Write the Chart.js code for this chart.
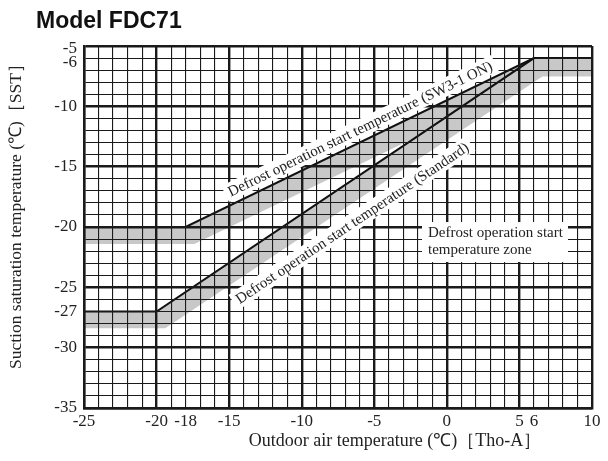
<!DOCTYPE html>
<html>
<head>
<meta charset="utf-8">
<script src="https://cdn.jsdelivr.net/npm/chart.js@4.4.1/dist/chart.umd.min.js"></script>
<style>
html, body { margin: 0; padding: 0; background: #fff; }
</style>
</head>
<body>
<canvas id="defrostChart" width="608" height="461"></canvas>
<script>
// Model FDC71 - defrost start temperature
var sw3OutdoorTemp = [-25, -18, 6, 10];
var sw3SuctionTemp = [-20, -20, -6, -6];
var stdOutdoorTemp = [-25, -20, 6, 10];
var stdSuctionTemp = [-27, -27, -6, -6];

// lower edges of the gray zones
var sw3ZoneOutdoor = [-25, -17.4, 6.6, 10];
var sw3ZoneSuction = [-21.4, -21.4, -7.5, -7.5];
var stdZoneOutdoor = [-25, -19.4, 6.6, 10];
var stdZoneSuction = [-28.4, -28.4, -7.5, -7.5];

var xTickLabels = [-25, -20, -18, -15, -10, -5, 0, 5, 6, 10];
var yTickLabels = [-5, -6, -10, -15, -20, -25, -27, -30, -35];

var serif = '"Liberation Serif", "Times New Roman", serif';

function toPoints(xs, ys) {
    return xs.map(function (x, i) { return { x: x, y: ys[i] }; });
}

// closed polygon: line on top, zone edge below (reversed)
function zonePoints(topX, topY, botX, botY) {
    return toPoints(topX, topY).concat(toPoints(botX, botY).reverse());
}

function intTicks(scale) {
    var t = [];
    for (var v = scale.min; v <= scale.max; v++) t.push({ value: v });
    scale.ticks = t;
}

function gridWidth(c) {
    return c.tick && c.tick.value % 5 === 0 ? 2.4 : 1.1;
}

// labels on the lines, drawn along the line direction
function lineLabel(chart, text, cx, cy, seg) {
    var ctx = chart.ctx, xs = chart.scales.x, ys = chart.scales.y;
    var px1 = xs.getPixelForValue(seg[0]), py1 = ys.getPixelForValue(seg[1]);
    var px2 = xs.getPixelForValue(seg[2]), py2 = ys.getPixelForValue(seg[3]);
    var ang = Math.atan2(py2 - py1, px2 - px1);
    ctx.save();
    ctx.translate(xs.getPixelForValue(cx), ys.getPixelForValue(cy));
    ctx.rotate(ang);
    ctx.font = '15px ' + serif;
    var w = ctx.measureText(text).width;
    ctx.fillStyle = '#fff';
    ctx.fillRect(-w / 2 - 4, -9, w + 8, 18);
    ctx.fillStyle = '#222';
    ctx.textAlign = 'center';
    ctx.textBaseline = 'middle';
    ctx.fillText(text, 0, 1);
    ctx.restore();
}

var annotatePlugin = {
    id: 'annotate',
    afterDraw: function (chart) {
        var ctx = chart.ctx, xs = chart.scales.x, ys = chart.scales.y;
        ctx.save();
        ctx.fillStyle = '#111';
        ctx.font = 'bold 23px "Liberation Sans", Arial, sans-serif';
        ctx.textBaseline = 'alphabetic';
        ctx.fillText('Model FDC71', 36, 28);

        ctx.fillStyle = '#222';
        ctx.font = '18px ' + serif;
        ctx.textAlign = 'center';
        ctx.textBaseline = 'middle';
        ctx.fillText('Outdoor air temperature (℃)［Tho-A］', 395, 441);
        ctx.save();
        ctx.font = '17.5px ' + serif;
        ctx.translate(16, 212);
        ctx.rotate(-Math.PI / 2);
        ctx.fillText('Suction saturation temperature (℃)［SST］', 0, 0);
        ctx.restore();
        ctx.restore();

        lineLabel(chart, 'Defrost operation start temperature (SW3-1 ON)', -5.98, -11.84,
            [sw3OutdoorTemp[1], sw3SuctionTemp[1], sw3OutdoorTemp[2], sw3SuctionTemp[2]]);
        lineLabel(chart, 'Defrost operation start temperature (Standard)', -6.53, -19.66,
            [stdOutdoorTemp[1], stdSuctionTemp[1], stdOutdoorTemp[2], stdSuctionTemp[2]]);

        // zone note box
        var bx = xs.getPixelForValue(-1.3), by = ys.getPixelForValue(-20.5);
        ctx.save();
        ctx.font = '15px ' + serif;
        ctx.fillStyle = '#fff';
        ctx.fillRect(bx - 6, by - 11, 146, 40);
        ctx.fillStyle = '#222';
        ctx.textBaseline = 'middle';
        ctx.fillText('Defrost operation start', bx, by);
        ctx.fillText('temperature zone', bx, by + 17);
        ctx.restore();
    }
};

new Chart(document.getElementById('defrostChart').getContext('2d'), {
    type: 'scatter',
    data: {
        datasets: [{
            label: 'SW3-1 ON',
            data: toPoints(sw3OutdoorTemp, sw3SuctionTemp),
            showLine: true,
            borderColor: '#111',
            borderWidth: 2,
            pointRadius: 0,
            order: 1
        }, {
            label: 'Standard',
            data: toPoints(stdOutdoorTemp, stdSuctionTemp),
            showLine: true,
            borderColor: '#111',
            borderWidth: 2,
            pointRadius: 0,
            order: 1
        }, {
            label: 'SW3-1 ON zone',
            data: zonePoints(sw3OutdoorTemp, sw3SuctionTemp, sw3ZoneOutdoor, sw3ZoneSuction),
            showLine: true,
            borderColor: 'rgba(0,0,0,0)',
            borderWidth: 0,
            backgroundColor: '#c8c8c8',
            fill: 'shape',
            pointRadius: 0,
            order: 2
        }, {
            label: 'Standard zone',
            data: zonePoints(stdOutdoorTemp, stdSuctionTemp, stdZoneOutdoor, stdZoneSuction),
            showLine: true,
            borderColor: 'rgba(0,0,0,0)',
            borderWidth: 0,
            backgroundColor: '#c8c8c8',
            fill: 'shape',
            pointRadius: 0,
            order: 2
        }]
    },
    options: {
        responsive: false,
        animation: false,
        events: [],
        layout: { padding: { top: 46, right: 16, left: 0, bottom: 0 } },
        plugins: {
            legend: { display: false },
            tooltip: { enabled: false }
        },
        scales: {
            x: {
                type: 'linear',
                min: -25,
                max: 10,
                afterBuildTicks: intTicks,
                afterFit: function (s) { s.height = 53; },
                grid: { z: 1, color: '#1a1a1a', lineWidth: gridWidth, drawTicks: false },
                border: { display: true, z: 1, color: '#1a1a1a', width: 2.4 },
                ticks: {
                    autoSkip: false,
                    maxRotation: 0,
                    padding: 3,
                    color: '#222',
                    font: { family: serif, size: 17 },
                    callback: function (v) { return xTickLabels.indexOf(v) >= 0 ? String(v) : ''; }
                }
            },
            y: {
                type: 'linear',
                min: -35,
                max: -5,
                afterBuildTicks: intTicks,
                afterFit: function (s) { s.width = 84; },
                grid: { z: 1, color: '#1a1a1a', lineWidth: gridWidth, drawTicks: false },
                border: { display: true, z: 1, color: '#1a1a1a', width: 2.4 },
                ticks: {
                    autoSkip: false,
                    padding: 7,
                    color: '#222',
                    // -5 and -6 sit close, nudge them down a little like the original
                    font: function (c) {
                        var v = c.tick ? c.tick.value : 0;
                        var lh = v === -5 ? 0.3 : (v === -6 ? 0.55 : 1.2);
                        return { family: serif, size: 17, lineHeight: lh };
                    },
                    callback: function (v) {
                        if (yTickLabels.indexOf(v) < 0) return '';
                        return (v === -5 || v === -6) ? ['', String(v)] : String(v);
                    }
                }
            }
        }
    },
    plugins: [annotatePlugin]
});
</script>
</body>
</html>
